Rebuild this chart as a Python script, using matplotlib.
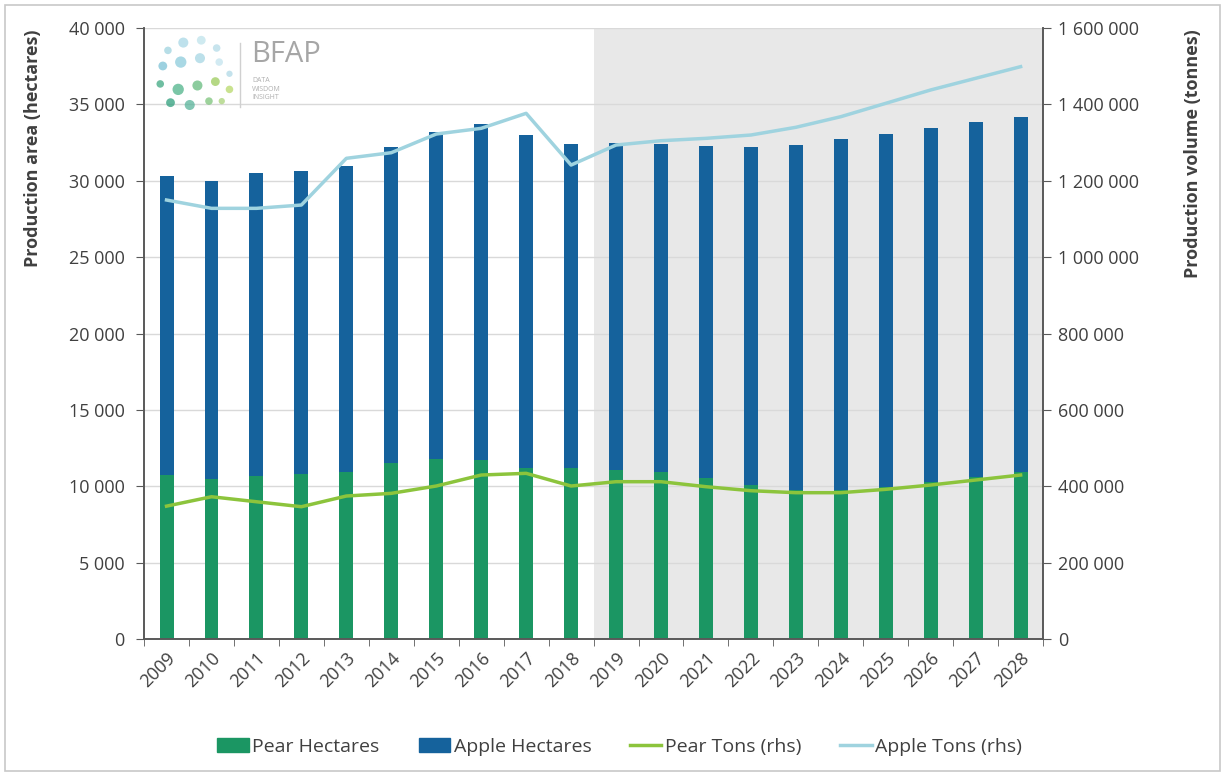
import matplotlib
matplotlib.use("Agg")
import matplotlib.pyplot as plt
from matplotlib.patches import Rectangle, Patch, Ellipse
from matplotlib.lines import Line2D
from matplotlib.ticker import FuncFormatter, MultipleLocator, FixedLocator

years = [str(y) for y in range(2009, 2029)]
pear_ha = [10740, 10470, 10690, 10780, 10950, 11500, 11780, 11720, 11170, 11170,
           11060, 10950, 10520, 10080, 9750, 9750, 9970, 10300, 10630, 10950]
apple_total_ha = [30310, 29980, 30510, 30640, 30950, 32190, 33170, 33710, 33000, 32430,
                  32450, 32400, 32270, 32190, 32360, 32710, 33080, 33430, 33830, 34200]
apple_ha = [t - p for t, p in zip(apple_total_ha, pear_ha)]
pear_tons = [348000, 372600, 359500, 346500, 374500, 381500, 400700, 429500, 433900, 400700,
             412000, 412000, 398900, 388400, 383200, 383200, 392000, 403300, 416400, 429500]
apple_tons = [1149600, 1127800, 1127800, 1136500, 1258800, 1273500, 1322400, 1337300, 1376600, 1241200,
              1293600, 1304900, 1311100, 1319800, 1340000, 1367800, 1402800, 1437800, 1468300, 1498800]
forecast_start = 10  # index of first projected year (2019)

C_PEAR = "#1b9663"
C_APPLE = "#15629c"
C_PEAR_L = "#8cc43c"
C_APPLE_L = "#9fd3df"
TXT = "#404040"
FS = 13

plt.rcParams['font.family'] = ['Open Sans', 'DejaVu Sans']

fig = plt.figure(figsize=(12.25, 7.76), dpi=100)
fig.patches.append(Rectangle((0.004, 0.006), 0.992, 0.988, transform=fig.transFigure,
                             fill=False, edgecolor="#c8c8c8", linewidth=1.2))

ax = fig.add_axes([0.1176, 0.1765, 0.7339, 0.7874])
x = list(range(len(years)))

ax.axvspan(forecast_start - 0.5, len(years) - 0.5, color="#e8e8e8", zorder=0, lw=0)
ax.set_axisbelow(True)
ax.yaxis.grid(True, color="#d9d9d9", linewidth=1.0, zorder=0.5)

bw = 0.31
ax.bar(x, pear_ha, width=bw, color=C_PEAR, zorder=2, label="Pear Hectares")
ax.bar(x, apple_ha, width=bw, bottom=pear_ha, color=C_APPLE, zorder=2, label="Apple Hectares")

ax.set_xlim(-0.5, len(years) - 0.5)
ax.set_ylim(0, 40000)
ax.yaxis.set_major_locator(MultipleLocator(5000))
fmt = FuncFormatter(lambda v, p: f"{int(v):,}".replace(",", " "))
ax.yaxis.set_major_formatter(fmt)

ax.set_xticks(x)
ax.set_xticklabels(years, rotation=45, ha="right", rotation_mode="anchor", fontsize=FS, color=TXT)
ax.tick_params(axis="x", which="major", length=0, pad=7)
ax.xaxis.set_minor_locator(FixedLocator([i - 0.5 for i in range(len(years) + 1)]))
ax.tick_params(axis="x", which="minor", length=5, color="#595959")
ax.tick_params(axis="y", labelsize=FS, labelcolor=TXT, length=6, color="#595959", pad=8)

ax.spines["top"].set_visible(False)
for s in ["left", "bottom", "right"]:
    ax.spines[s].set_color("#595959")
    ax.spines[s].set_linewidth(1.2)

ax2 = ax.twinx()
ax2.plot(x, pear_tons, color=C_PEAR_L, linewidth=2.5, zorder=3, label="Pear Tons (rhs)")
ax2.plot(x, apple_tons, color=C_APPLE_L, linewidth=2.5, zorder=3, label="Apple Tons (rhs)")
ax2.set_ylim(0, 1600000)
ax2.yaxis.set_major_locator(MultipleLocator(200000))
ax2.yaxis.set_major_formatter(fmt)
ax2.tick_params(axis="y", labelsize=FS, labelcolor=TXT, length=6, color="#595959", pad=5)
ax2.spines["top"].set_visible(False)
for s in ["left", "bottom", "right"]:
    ax2.spines[s].set_color("#595959")
    ax2.spines[s].set_linewidth(1.2)

fig.text(0.0269, 0.962, "Production area (hectares)", rotation=90, ha="center", va="top",
         fontsize=13, fontweight="bold", color=TXT)
fig.text(0.974, 0.962, "Production volume (tonnes)", rotation=90, ha="center", va="top",
         fontsize=13, fontweight="bold", color=TXT)

# BFAP logo (decorative)
dots = [(0.030, 0.955, 0.006, "#9fd3df"), (0.042, 0.965, 0.008, "#a8d8e6"), (0.056, 0.968, 0.007, "#bfe3ec"),
        (0.068, 0.958, 0.006, "#b5dbe8"), (0.026, 0.935, 0.007, "#7cc2d6"), (0.040, 0.940, 0.009, "#8ccbdc"),
        (0.055, 0.945, 0.008, "#a6d6e3"), (0.070, 0.940, 0.006, "#c4e4ee"), (0.078, 0.925, 0.005, "#b0d9e6"),
        (0.024, 0.912, 0.006, "#3fa882"), (0.038, 0.905, 0.009, "#4fb38a"), (0.053, 0.910, 0.008, "#66bb7e"),
        (0.067, 0.915, 0.007, "#9ccc5c"), (0.078, 0.905, 0.006, "#b8d96a"), (0.032, 0.888, 0.007, "#2f9f7c"),
        (0.047, 0.885, 0.008, "#58b39a"), (0.062, 0.890, 0.006, "#7cc47a"), (0.072, 0.890, 0.005, "#a8d27a")]
aspect = 899 / 611
for dx, dy, r, c in dots:
    px = 0.018 + (dx - 0.024) * (0.077 / 0.054)
    py = 0.874 + (dy - 0.885) * (0.106 / 0.083)
    rr = r * 0.7
    ax.add_patch(Ellipse((px, py), 2 * rr, 2 * rr * aspect, transform=ax.transAxes,
                         color=c, alpha=0.75, zorder=5, lw=0))
ax.plot([0.107, 0.107], [0.87, 0.975], transform=ax.transAxes, color="#d0d0d0", lw=1, zorder=5)
ax.text(0.119, 0.957, "BFAP", transform=ax.transAxes, fontsize=21, color="#a6a6a6",
        va="center", ha="left", zorder=5)
ax.text(0.120, 0.900, "DATA\nWISDOM\nINSIGHT", transform=ax.transAxes, fontsize=5, color="#b0b0b0",
        va="center", ha="left", linespacing=1.3, zorder=5)

handles = [Patch(color=C_PEAR), Patch(color=C_APPLE),
           Line2D([0], [0], color=C_PEAR_L, lw=2.5), Line2D([0], [0], color=C_APPLE_L, lw=2.5)]
labels = ["Pear Hectares", "Apple Hectares", "Pear Tons (rhs)", "Apple Tons (rhs)"]
fig.legend(handles, labels, loc="center", bbox_to_anchor=(0.506, 0.038), ncol=4, frameon=False,
           fontsize=14, handlelength=1.6, handletextpad=0.2, columnspacing=2.0,
           labelcolor=TXT)

fig.savefig("out.png", dpi=100)
